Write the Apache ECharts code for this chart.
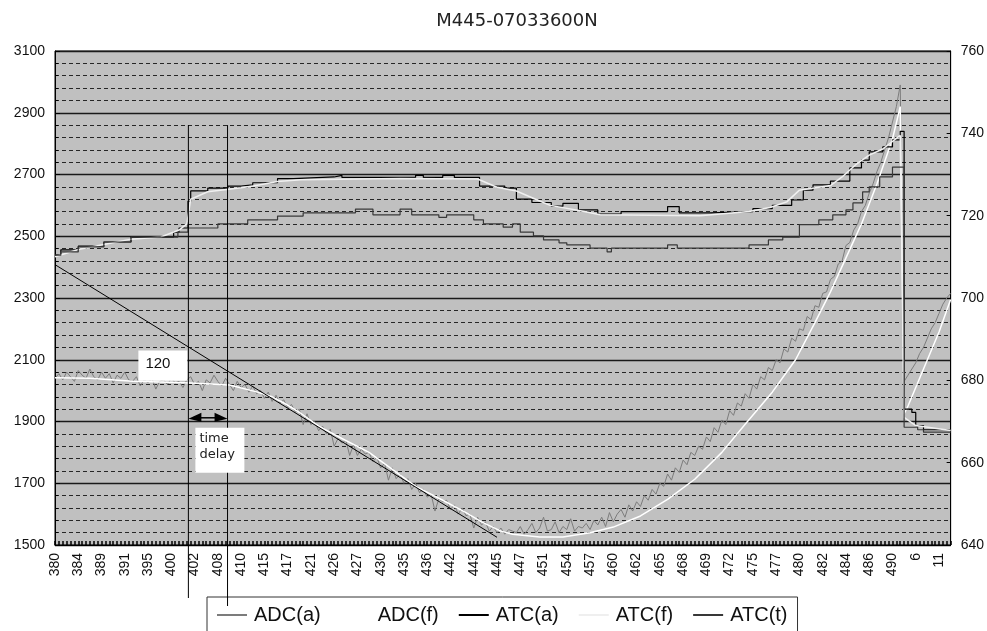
<!DOCTYPE html>
<html><head><meta charset="utf-8">
<script src="https://cdn.jsdelivr.net/npm/echarts@6/dist/echarts.min.js"></script>
<style>html,body{margin:0;padding:0;background:#fff}#c{width:987px;height:631px}</style>
</head><body><div id="c"></div>
<script>
// x-axis tick labels (one label every 6 samples)
const tickLabels = ['380','384','389','391','395','400','402','408','410','415','417','421','426','427','430','435','436','442','443','445','447','451','454','457','460','462','465','468','469','472','475','477','480','482','484','486','490','6','11'];

// ADC(a): raw ADC, one value per sample (left axis)
const adcA = [
2040,2055,2035,2060,2045,2030,2065,2050,2040,2070,
2045,2035,2060,2040,2055,2025,2050,2040,2060,2035,
2030,2045,2015,2035,2025,2040,2005,2030,2035,2020,
2040,2025,2030,2010,2035,2045,2020,2030,2000,2035,
2025,2050,2030,2015,2040,2020,2000,2030,2010,2020,
1995,2015,1990,2000,1975,1995,1965,1985,1960,1970,
1945,1955,1930,1940,1890,1925,1890,1900,1870,1885,
1860,1875,1820,1845,1830,1840,1790,1825,1790,1810,
1795,1800,1770,1785,1750,1765,1710,1750,1715,1730,
1700,1715,1680,1700,1670,1680,1655,1665,1610,1650,
1640,1645,1615,1630,1600,1620,1595,1600,1555,1590,
1565,1575,1545,1560,1540,1555,1535,1550,1545,1540,
1560,1535,1550,1570,1540,1555,1590,1545,1550,1575,
1540,1560,1550,1585,1545,1560,1555,1570,1550,1580,
1565,1590,1560,1605,1575,1600,1615,1590,1630,1610,
1640,1625,1660,1645,1680,1665,1700,1690,1730,1710,
1750,1735,1775,1760,1800,1790,1820,1810,1850,1835,
1880,1865,1905,1890,1935,1920,1960,1950,1990,1975,
2020,2005,2045,2035,2075,2065,2100,2090,2135,2125,
2170,2160,2200,2195,2240,2230,2275,2270,2315,2320,
2360,2370,2410,2420,2470,2480,2520,2540,2580,2600,
2640,2670,2710,2740,2780,2820,2870,2920,2990,2030,
2050,2070,2090,2120,2140,2170,2200,2220,2250,2280,
2300,2315
];

// ADC(f): filtered ADC, [sample, value] (left axis)
const adcF = [[0,2042],[9,2040],[20,2030],[27,2028],[35,2025],[45,2018],[52,1996],[56,1980],[59,1960],[63,1930],[68,1885],[74,1845],[81,1800],[87,1745],[93,1690],[100,1645],[106,1605],[110,1575],[115,1545],[118,1535],[125,1526],[131,1526],[138,1540],[144,1558],[151,1594],[158,1648],[165,1713],[172,1800],[178,1891],[185,1995],[191,2100],[196,2220],[200,2320],[204,2430],[208,2540],[212,2670],[216,2815],[218,2920],[219,1925],[220,1950],[222,2010],[225,2100],[228,2190],[231,2295]];

// ATC(a): actual temperature steps, [sample, value] (right axis)
const atcA = [[0,710.4],[1.5,711.7],[6,712.6],[12.6,713.6],[19.6,714.8],[30.6,716.0],[32,717.0],[34.3,723.5],[35,726.0],[39.4,726.7],[44.6,727.2],[48,727.5],[51,728.0],[57.4,729.0],[61.5,729.4],[72,729.8],[74,729.3],[93,729.8],[95,729.3],[100,729.8],[103,729.3],[109.5,727.2],[116,726.7],[119,724.0],[123,723.2],[128,722.3],[131,723.0],[135,721.4],[140,720.4],[146,721.0],[158,722.2],[161,720.7],[169,721.0],[180,721.7],[185,722.5],[190,723.8],[193,726.2],[195.5,727.5],[200,728.4],[205,731.6],[208,733.5],[210,735.5],[213.5,736.7],[216,738.4],[218,740.5],[219,673.0],[221,672.2],[222,669.0],[224,668.0],[231,668.0]];

// ATC(f): filtered temperature, [sample, value] (right axis)
const atcF = [[0,710.0],[6,711.8],[12.6,713.0],[19.6,714.3],[27.3,714.8],[32,716.5],[34,718.0],[35,724.0],[39.4,725.8],[48,726.8],[51.2,727.2],[57.4,728.3],[63.4,728.7],[89,729.0],[109,728.9],[114,726.9],[119,726.0],[124.4,723.8],[127.7,722.5],[135.5,721.2],[140.6,720.2],[166.4,720.0],[179,721.0],[184.4,722.0],[188.8,723.4],[192,726.2],[200,727.3],[203,729.4],[206.8,732.6],[210,734.7],[213.5,736.2],[218,739.5],[219,671.0],[222,669.0],[231,667.8]];

// ATC(t): temperature steps, [sample, value] (right axis)
const atcT = [[0,710.4],[1.5,711.2],[6,712.4],[12.6,713.6],[19.6,714.8],[31.7,716.0],[34.3,717.0],[42,718.0],[49.7,719.0],[57.4,719.9],[64,720.7],[77.5,721.6],[82,720.2],[89,721.6],[92,720.2],[99,719.6],[101,720.2],[108,719.0],[110.5,718.0],[115.6,717.2],[118,718.0],[120,716.0],[123.4,715.1],[126,714.1],[130,713.4],[132,712.9],[138,712.1],[142.4,711.2],[143.5,712.1],[158,712.9],[160.5,712.1],[179,712.9],[184,714.1],[187.7,714.8],[192,717.8],[197,719.0],[200.6,720.2],[204,721.4],[205.8,723.1],[208.3,725.8],[210,727.0],[212.7,729.4],[216,731.8],[219,668.6],[222.5,668.0],[224,667.4],[231,667.4]];

// drawn reference slope line (left axis)
const slopeLine = [[0,2408],[114,1525]];

const FONT = 'Liberation Sans, Arial, sans-serif';
const chart = echarts.init(document.getElementById('c'), null, {renderer:'canvas'});
const lineSeries = (name, data, color, width, yIdx, extra) => Object.assign({
  name, type:'line', data, yAxisIndex:yIdx, symbol:'none', showSymbol:false,
  color, lineStyle:{color, width}, itemStyle:{color}, animation:false
}, extra || {});

const option = {
  animation:false,
  backgroundColor:'#ffffff',
  title:{text:'M445-07033600N', left:517, top:12, textAlign:'center', padding:0,
    textStyle:{fontFamily:'DejaVu Sans, sans-serif', fontSize:18, fontWeight:'normal', color:'#222'}},
  legend:{
    data:['ADC(a)','ADC(f)','ATC(a)','ATC(f)','ATC(t)'],
    left:207, top:597, orient:'horizontal',
    icon:'rect', itemWidth:30, itemHeight:2, itemGap:20,
    padding:[8,10,16,10],
    backgroundColor:'#ffffff', borderColor:'#333', borderWidth:1,
    textStyle:{fontFamily:FONT, fontSize:20, color:'#111', padding:[0,0,0,2]}
  },
  grid:{left:55, right:36, top:51, bottom:86, show:true, backgroundColor:'#c0c0c0', borderColor:'#000', borderWidth:1},
  xAxis:{
    type:'value', min:0, max:231, interval:6,
    axisLine:{show:true, onZero:false, lineStyle:{color:'#000'}},
    axisTick:{show:true, inside:true, length:4, lineStyle:{color:'#000', width:1.5}},
    minorTick:{show:true, splitNumber:6, length:4, lineStyle:{color:'#000', width:1.5}},
    splitLine:{show:false},
    axisLabel:{rotate:90, margin:8, fontFamily:FONT, fontSize:14, color:'#111',
      showMinLabel:true, showMaxLabel:true,
      formatter:function(v){ if (Math.abs(v % 6) > 1e-6) return ''; const t = tickLabels[Math.round(v/6)]; return t === undefined ? '' : t; }}
  },
  yAxis:[
    {type:'value', min:1500, max:3100, interval:200, position:'left',
     axisLine:{show:true, lineStyle:{color:'#000'}},
     axisTick:{show:true, inside:true, length:5, lineStyle:{color:'#000'}},
     minorTick:{show:true, splitNumber:5, length:3, lineStyle:{color:'#000'}},
     splitLine:{show:true, lineStyle:{color:'#1a1a1a', width:1.3}},
     minorSplitLine:{show:true, lineStyle:{color:'#262626', width:1.2, type:[4,3]}},
     axisLabel:{margin:10, fontFamily:FONT, fontSize:14, color:'#111', formatter:function(v){ return String(v); }}},
    {type:'value', min:640, max:760, interval:20, position:'right',
     axisLine:{show:true, lineStyle:{color:'#000'}},
     axisTick:{show:true, inside:true, length:4, lineStyle:{color:'#000'}},
     splitLine:{show:false},
     axisLabel:{margin:10, fontFamily:FONT, fontSize:14, color:'#111', formatter:function(v){ return String(v); }}}
  ],
  series:[
    lineSeries('ADC(a)', adcA.map((v,i)=>[i,v]), '#7c7c7c', 1, 0),
    lineSeries('ADC(f)', adcF, '#ffffff', 1.5, 0),
    lineSeries('ATC(a)', atcA, '#000000', 1.2, 1, {step:'end'}),
    lineSeries('ATC(f)', atcF, '#efefef', 1.5, 1),
    lineSeries('ATC(t)', atcT, '#383838', 1.2, 1, {step:'end'}),
    lineSeries('slope', slopeLine, '#000000', 1, 0, {legendHoverLink:false})
  ]
};
chart.setOption(option);

// annotations: time-delay markers, computed from data coordinates
const toPx = (x, y) => chart.convertToPixel({xAxisIndex:0, yAxisIndex:0}, [x, y]);
const delayStart = 34.4, delayEnd = 44.5, markTopVal = 2860;
const X1 = toPx(delayStart, markTopVal)[0], X2 = toPx(delayEnd, markTopVal)[0];
const YT = toPx(delayStart, markTopVal)[1];
const yArrow = toPx(0, 1912)[1];
const y120top = toPx(0, 2130)[1], y120bot = toPx(0, 2032)[1];
const yBoxTop = toPx(0, 1880)[1];
chart.setOption({
  graphic:[
    {type:'rect', z:100, shape:{x:X1-50, y:y120top, width:49, height:y120bot-y120top}, style:{fill:'#ffffff'}},
    {type:'text', z:103, style:{text:'120', x:X1-43, y:(y120top+y120bot)/2 - 2, fontSize:15, fontFamily:FONT, fill:'#111', verticalAlign:'middle'}},
    {type:'line', z:101, shape:{x1:X1, y1:YT, x2:X1, y2:598}, style:{stroke:'#000', lineWidth:1}},
    {type:'line', z:101, shape:{x1:X2, y1:YT, x2:X2, y2:606}, style:{stroke:'#000', lineWidth:1}},
    {type:'rect', z:102, shape:{x:X1+7, y:yBoxTop, width:49, height:45}, style:{fill:'#ffffff'}},
    {type:'text', z:103, style:{text:'time', x:X1+11, y:yBoxTop+11, fontSize:13, fontFamily:'DejaVu Sans, sans-serif', fill:'#222', verticalAlign:'middle'}},
    {type:'text', z:103, style:{text:'delay', x:X1+11, y:yBoxTop+27, fontSize:13, fontFamily:'DejaVu Sans, sans-serif', fill:'#222', verticalAlign:'middle'}},
    {type:'line', z:103, shape:{x1:X1+10, y1:yArrow, x2:X2-10, y2:yArrow}, style:{stroke:'#000', lineWidth:1.5}},
    {type:'polygon', z:103, shape:{points:[[X1,yArrow+1],[X1+13,yArrow-5],[X1+13,yArrow+4]]}, style:{fill:'#000'}},
    {type:'polygon', z:103, shape:{points:[[X2,yArrow+1],[X2-13,yArrow-5],[X2-13,yArrow+4]]}, style:{fill:'#000'}}
  ]
});
</script>
</body></html>
